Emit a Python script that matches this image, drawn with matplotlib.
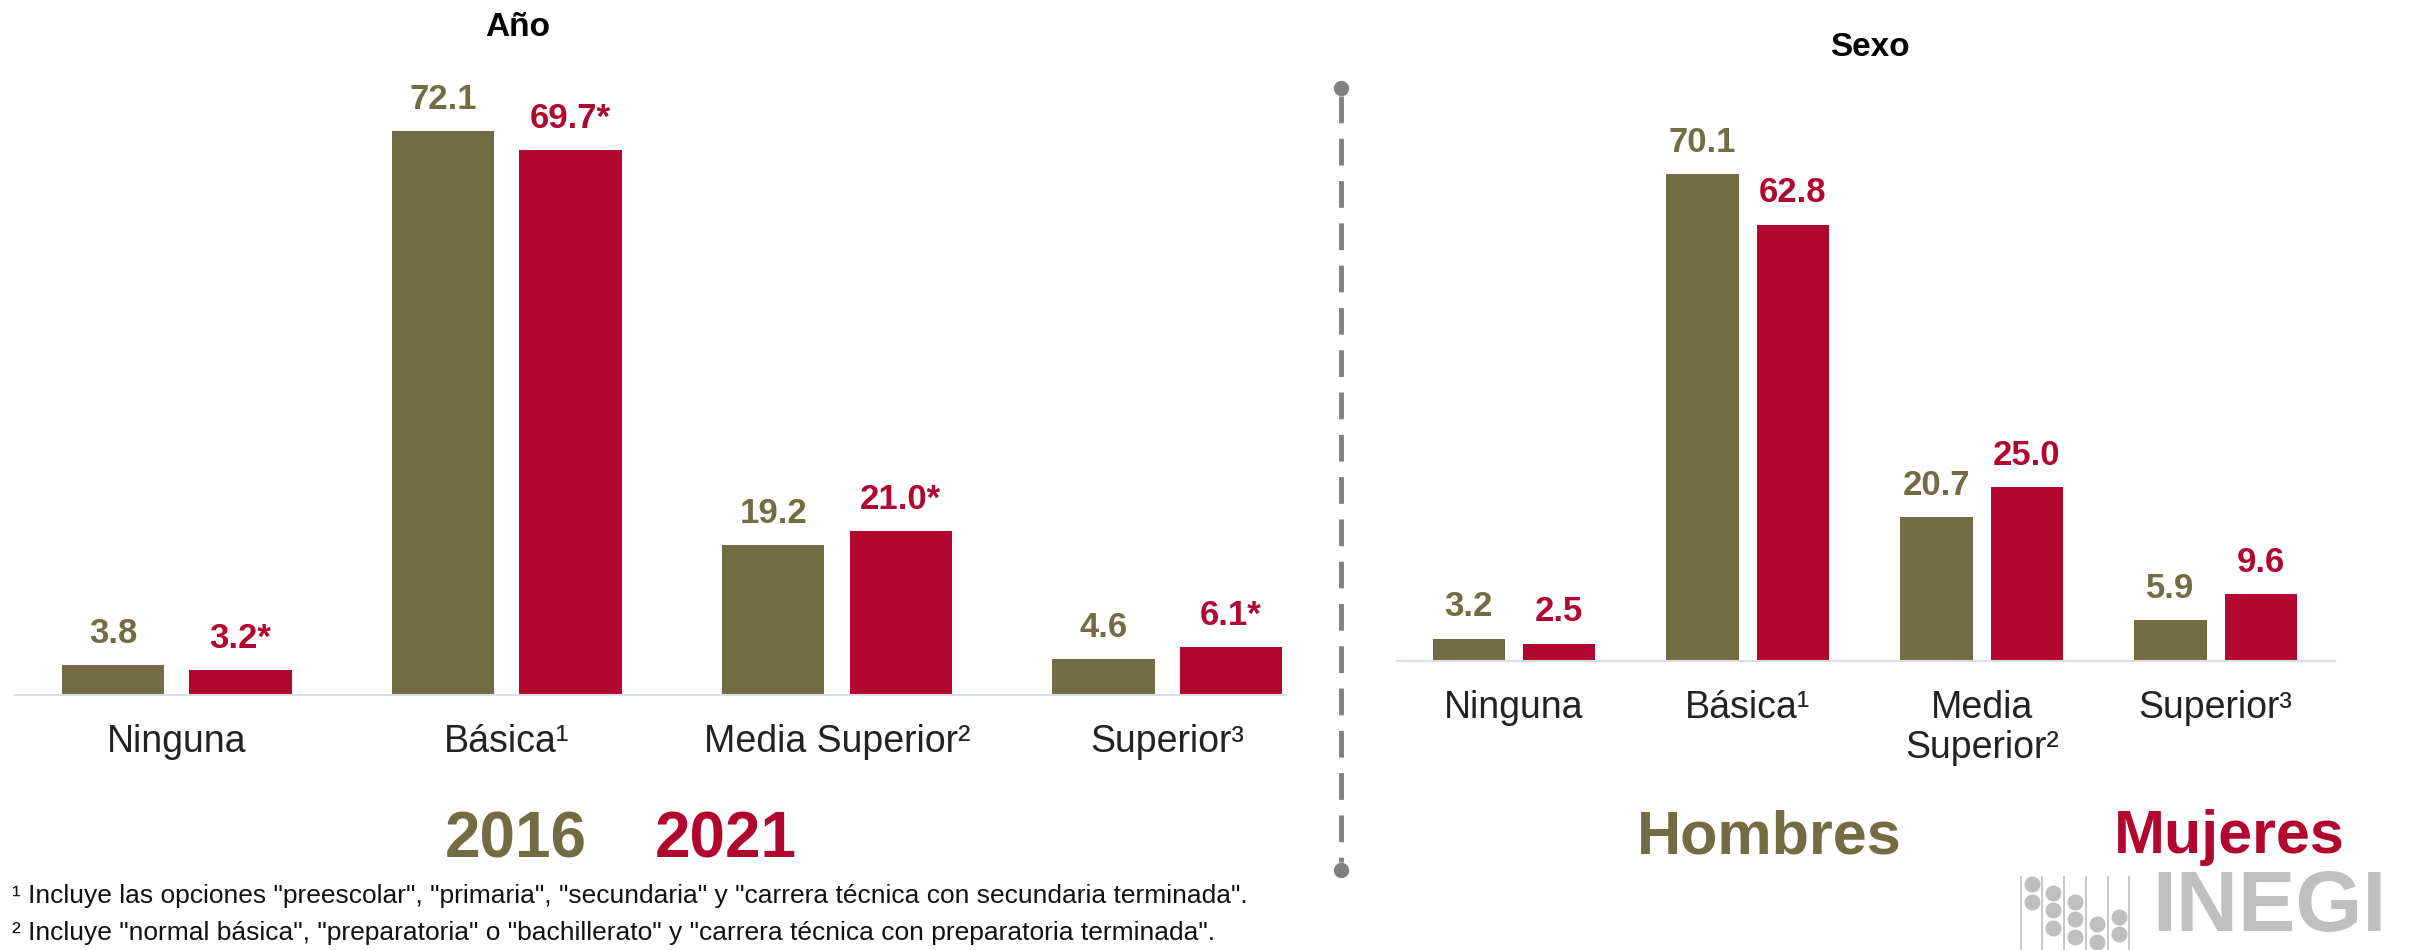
import matplotlib
matplotlib.use("Agg")
import matplotlib.pyplot as plt
from matplotlib.lines import Line2D
import numpy as np

plt.rcParams['font.family'] = ['Liberation Sans', 'DejaVu Sans']

# datos
categorias_anio = ["Ninguna", "Básica¹", "Media Superior²", "Superior³"]
valores_2016 = [3.8, 72.1, 19.2, 4.6]
valores_2021 = [3.2, 69.7, 21.0, 6.1]
signif_2021 = [True, True, True, True]

categorias_sexo = ["Ninguna", "Básica¹", "Media\nSuperior²", "Superior³"]
valores_hombres = [3.2, 70.1, 20.7, 5.9]
valores_mujeres = [2.5, 62.8, 25.0, 9.6]

notas = [
    '¹ Incluye las opciones "preescolar", "primaria", "secundaria" y "carrera técnica con secundaria terminada".',
    '² Incluye "normal básica", "preparatoria" o "bachillerato" y "carrera técnica con preparatoria terminada".',
]

OLIVA = "#736B42"
ROJO = "#B1062D"
EJE = "#D9DFE8"

W, H = 2412, 950
fig = plt.figure(figsize=(W / 100, H / 100), dpi=100)


def ejes_px(x0, x1, y_base, y_top):
    # coordenadas en pixeles desde arriba a la izquierda
    return fig.add_axes([x0 / W, (H - y_base) / H, (x1 - x0) / W, (y_base - y_top) / H])


def dibuja(ax, cats, v1, v2, etiquetas2, xlim):
    x = np.arange(len(cats))
    b1 = ax.bar(x - 0.193, v1, 0.31, color=OLIVA)
    b2 = ax.bar(x + 0.193, v2, 0.31, color=ROJO)
    for r, v in zip(b1, v1):
        ax.annotate("%.1f" % v, (r.get_x() + r.get_width() / 2, r.get_height()),
                    xytext=(0, 11), textcoords="offset points", ha="center", va="bottom",
                    fontsize=25, fontweight="bold", color=OLIVA)
    for r, t in zip(b2, etiquetas2):
        ax.annotate(t, (r.get_x() + r.get_width() / 2, r.get_height()),
                    xytext=(0, 11), textcoords="offset points", ha="center", va="bottom",
                    fontsize=25, fontweight="bold", color=ROJO)
    ax.set_xlim(*xlim)
    ax.set_ylim(0, 80)
    ax.set_xticks(x, cats, fontsize=27, color="#222222", linespacing=1.15)
    ax.tick_params(axis="x", length=0, pad=21)
    ax.set_yticks([])
    for s in ["top", "right", "left"]:
        ax.spines[s].set_visible(False)
    ax.spines["bottom"].set_color(EJE)
    ax.spines["bottom"].set_linewidth(1.5)
    ax.patch.set_alpha(0)


ax1 = ejes_px(15, 1286, 695, 695 - 80 * 7.82)
etq_2021 = ["%.1f*" % v if s else "%.1f" % v for v, s in zip(valores_2021, signif_2021)]
dibuja(ax1, categorias_anio, valores_2016, valores_2021, etq_2021, (-0.49, 3.36))

ax2 = ejes_px(1397, 2335, 661, 661 - 80 * 6.95)
dibuja(ax2, categorias_sexo, valores_hombres, valores_mujeres,
       ["%.1f" % v for v in valores_mujeres], (-0.5, 3.51))

# titulos
fig.text(518 / W, 1 - 28 / H, "Año", ha="center", va="center", fontsize=24, fontweight="bold")
fig.text(1870 / W, 1 - 47 / H, "Sexo", ha="center", va="center", fontsize=24, fontweight="bold")

# leyendas
fig.text(516 / W, 1 - 840 / H, "2016", ha="center", va="center", fontsize=46, fontweight="bold", color=OLIVA)
fig.text(726 / W, 1 - 840 / H, "2021", ha="center", va="center", fontsize=46, fontweight="bold", color=ROJO)
fig.text(1769 / W, 1 - 838 / H, "Hombres", ha="center", va="center", fontsize=44, fontweight="bold", color=OLIVA)
fig.text(2229 / W, 1 - 838 / H, "Mujeres", ha="center", va="center", fontsize=44, fontweight="bold", color=ROJO)

# notas al pie
for i, n in enumerate(notas):
    fig.text(12 / W, 1 - (896 + 37 * i) / H, n, ha="left", va="center", fontsize=19, color="#111111")

# divisor punteado
xd = 1341 / W
fig.add_artist(Line2D([xd, xd], [1 - 96 / H, 1 - 862 / H], color="#808080", lw=3.5,
                      dashes=(5.5, 3.2), transform=fig.transFigure))
fig.add_artist(Line2D([xd, xd], [1 - 88 / H, 1 - 870 / H], color="#808080", lw=0,
                      marker="o", markersize=10, transform=fig.transFigure))

# logo INEGI
gris = "#BFBFBF"
for lx in [2021, 2042, 2064, 2086, 2108, 2129]:
    fig.add_artist(Line2D([lx / W, lx / W], [1 - 877 / H, 0], color=gris, lw=1.2,
                          transform=fig.transFigure))
puntos = [(2032, 884), (2032, 902), (2053, 893), (2053, 910), (2053, 928),
          (2075, 902), (2075, 919), (2075, 937), (2097, 924), (2097, 942),
          (2119, 917), (2119, 934)]
for px, py in puntos:
    fig.add_artist(Line2D([px / W], [1 - py / H], color=gris, lw=0, marker="o",
                          markersize=10.5, transform=fig.transFigure))
fig.text(2387 / W, 1 - 949 / H, "INEGI", ha="right", va="bottom", fontsize=62,
         fontweight="bold", color=gris)

fig.savefig("out.png", dpi=100)
